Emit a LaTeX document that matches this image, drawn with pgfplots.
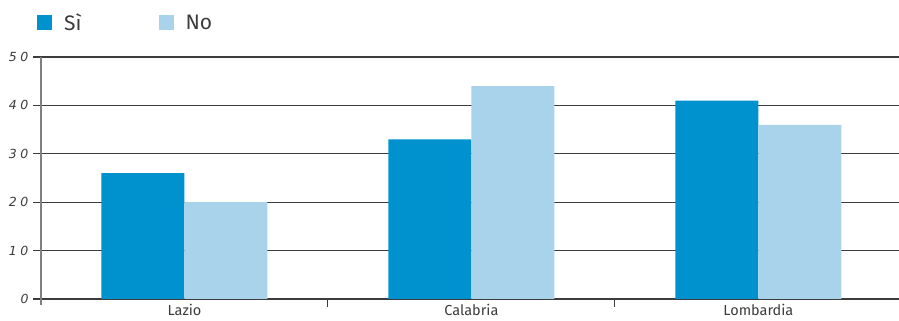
\documentclass[border=0pt]{standalone}
\usepackage{pgfplots}
\pgfplotsset{compat=1.18}
\usepackage{fontspec}
\setmainfont{Fira Sans}
\newfontfamily\tickfont[LetterSpace=30]{DejaVu Sans}
\definecolor{si}{HTML}{0091CF}
\definecolor{no}{HTML}{A8D3EB}
\definecolor{gridc}{HTML}{3C3C3C}
\begin{document}
\begin{tikzpicture}[x=1pt,y=1pt]
\useasboundingbox (0,0) rectangle (899,321);
\begin{axis}[
  at={(41pt,22pt)}, anchor=south west,
  scale only axis, width=858pt, height=242pt,
  xmin=-0.5, xmax=2.49, ymin=0, ymax=50,
  ybar=0pt, bar width=83pt,
  axis x line=bottom, axis y line=left,
  axis line style={-},
  x axis line style={gridc, line width=1.1pt},
  y axis line style={gray, line width=1.8pt, shorten <=-6pt},
  ytick={0,10,...,50}, ymajorgrids,
  grid style={gridc, line width=1.1pt},
  tick align=outside, major tick length=8pt,
  ytick style={gridc, line width=1.1pt},
  xtick={0.5,1.5}, xticklabels={},
  xtick style={gridc, line width=1pt},
  extra x ticks={0,1,2},
  extra x tick labels={Lazio,Calabria,Lombardia},
  extra x tick style={major tick length=0pt},
  yticklabel style={/pgf/number format/assume math mode=true,
    font=\tickfont\itshape\fontsize{12.5}{12.5}\selectfont, text=gridc, xshift=-1pt},
  xticklabel style={font=\fontsize{14.5}{14.5}\selectfont, text=gridc, yshift=-2pt},
  legend entries={Sì,No},
  legend columns=2,
  legend image code/.code={\fill[#1] (0pt,-7.5pt) rectangle (15pt,7.5pt); \path (25pt,0pt);},
  legend style={draw=none, fill=none, at={(axis description cs:0,1)}, anchor=west,
    xshift=-7pt, yshift=34pt, font=\fontsize{21}{21}\selectfont, text=gridc,
    /tikz/every even column/.append style={column sep=75pt}},
]
\addplot[fill=si, draw=none] coordinates {(0,26) (1,33) (2,41)};
\addplot[fill=no, draw=none] coordinates {(0,20) (1,44) (2,36)};
\end{axis}
\end{tikzpicture}
\end{document}
